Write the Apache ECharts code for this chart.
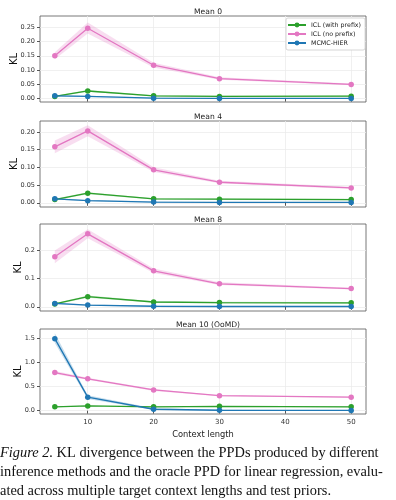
<!DOCTYPE html>
<html>
<head>
<meta charset="utf-8">
<script src="https://cdn.jsdelivr.net/npm/echarts@6/dist/echarts.min.js"></script>
<style>
  html, body { margin: 0; padding: 0; background: #fff; }
  #chart { width: 396px; height: 500px; }
</style>
</head>
<body>
<div id="chart"></div>
<script>
// context lengths shared by every panel
const contextLengths = [5, 10, 20, 30, 50]
const panelTitles = ['Mean 0', 'Mean 4', 'Mean 8', 'Mean 10 (OoMD)']
const methodNames = ['ICL (with prefix)', 'ICL (no prefix)', 'MCMC-HIER']
const xTicks = [10, 20, 30, 40, 50]

// Mean 0
const mean0WithPrefix = [0.008, 0.027, 0.010, 0.008, 0.009]
const mean0WithPrefixLow = [0.006, 0.024, 0.008, 0.006, 0.007]
const mean0WithPrefixHigh = [0.010, 0.030, 0.012, 0.010, 0.011]
const mean0NoPrefix = [0.150, 0.246, 0.117, 0.070, 0.050]
const mean0NoPrefixLow = [0.138, 0.228, 0.109, 0.066, 0.047]
const mean0NoPrefixHigh = [0.162, 0.266, 0.126, 0.075, 0.053]
const mean0Mcmc = [0.010, 0.008, 0.002, 0.001, 0.001]
const mean0McmcLow = [0.008, 0.006, 0.001, 0.000, 0.000]
const mean0McmcHigh = [0.012, 0.010, 0.004, 0.002, 0.002]

// Mean 4
const mean4WithPrefix = [0.009, 0.027, 0.011, 0.010, 0.009]
const mean4WithPrefixLow = [0.007, 0.024, 0.009, 0.008, 0.007]
const mean4WithPrefixHigh = [0.011, 0.030, 0.013, 0.012, 0.011]
const mean4NoPrefix = [0.158, 0.203, 0.093, 0.058, 0.042]
const mean4NoPrefixLow = [0.140, 0.188, 0.087, 0.055, 0.039]
const mean4NoPrefixHigh = [0.176, 0.219, 0.100, 0.062, 0.045]
const mean4Mcmc = [0.011, 0.006, 0.002, 0.001, 0.001]
const mean4McmcLow = [0.009, 0.004, 0.001, 0.000, 0.000]
const mean4McmcHigh = [0.013, 0.008, 0.004, 0.002, 0.002]

// Mean 8
const mean8WithPrefix = [0.010, 0.036, 0.017, 0.015, 0.014]
const mean8WithPrefixLow = [0.007, 0.032, 0.014, 0.012, 0.011]
const mean8WithPrefixHigh = [0.013, 0.040, 0.020, 0.018, 0.017]
const mean8NoPrefix = [0.178, 0.260, 0.128, 0.082, 0.065]
const mean8NoPrefixLow = [0.155, 0.244, 0.120, 0.078, 0.062]
const mean8NoPrefixHigh = [0.201, 0.276, 0.136, 0.087, 0.068]
const mean8Mcmc = [0.012, 0.006, 0.002, 0.001, 0.001]
const mean8McmcLow = [0.009, 0.004, 0.001, 0.000, 0.000]
const mean8McmcHigh = [0.015, 0.008, 0.004, 0.002, 0.002]

// Mean 10 (OoMD)
const mean10WithPrefix = [0.08, 0.10, 0.08, 0.09, 0.08]
const mean10WithPrefixLow = [0.07, 0.09, 0.07, 0.08, 0.07]
const mean10WithPrefixHigh = [0.09, 0.11, 0.09, 0.10, 0.09]
const mean10NoPrefix = [0.79, 0.66, 0.43, 0.31, 0.28]
const mean10NoPrefixLow = [0.76, 0.64, 0.41, 0.30, 0.27]
const mean10NoPrefixHigh = [0.82, 0.68, 0.45, 0.32, 0.29]
const mean10Mcmc = [1.49, 0.28, 0.03, 0.01, 0.005]
const mean10McmcLow = [1.40, 0.24, 0.02, 0.00, 0.000]
const mean10McmcHigh = [1.60, 0.32, 0.05, 0.02, 0.010]

const panelData = [
  [[mean0WithPrefix, mean0WithPrefixLow, mean0WithPrefixHigh], [mean0NoPrefix, mean0NoPrefixLow, mean0NoPrefixHigh], [mean0Mcmc, mean0McmcLow, mean0McmcHigh]],
  [[mean4WithPrefix, mean4WithPrefixLow, mean4WithPrefixHigh], [mean4NoPrefix, mean4NoPrefixLow, mean4NoPrefixHigh], [mean4Mcmc, mean4McmcLow, mean4McmcHigh]],
  [[mean8WithPrefix, mean8WithPrefixLow, mean8WithPrefixHigh], [mean8NoPrefix, mean8NoPrefixLow, mean8NoPrefixHigh], [mean8Mcmc, mean8McmcLow, mean8McmcHigh]],
  [[mean10WithPrefix, mean10WithPrefixLow, mean10WithPrefixHigh], [mean10NoPrefix, mean10NoPrefixLow, mean10NoPrefixHigh], [mean10Mcmc, mean10McmcLow, mean10McmcHigh]]
]

const yTicks = [
  [0, 0.05, 0.10, 0.15, 0.20, 0.25],
  [0, 0.05, 0.10, 0.15, 0.20],
  [0, 0.1, 0.2],
  [0, 0.5, 1.0, 1.5]
]
const yDecimals = [2, 2, 1, 1]
const yRanges = [[-0.0115, 0.289], [-0.012, 0.231], [-0.015, 0.295], [-0.068, 1.69]]

const colors = ['#2ca02c', '#e377c2', '#1f77b4']
const bandColors = ['rgba(44,160,44,0.25)', 'rgba(227,119,194,0.25)', 'rgba(31,119,180,0.25)']
const font = 'DejaVu Sans'
const serif = '14.4px "Liberation Serif"'

const gridBoxes = [
  { top: 16, height: 86 },
  { top: 121, height: 86 },
  { top: 224, height: 87 },
  { top: 329, height: 85 }
]

const chart = echarts.init(document.getElementById('chart'))

const grids = gridBoxes.map((b) => ({
  left: 40, width: 326, top: b.top, height: b.height,
  outerBoundsMode: 'none', containLabel: false,
  show: true, borderColor: '#555', borderWidth: 0.8, backgroundColor: 'transparent'
}))

const xAxes = gridBoxes.map((b, i) => ({
  type: 'value', gridIndex: i, min: 2.75, max: 52.25,
  axisLine: { show: false },
  axisTick: { show: true, length: 3, lineStyle: { color: '#555' }, customValues: xTicks },
  axisLabel: {
    show: i === 3, customValues: xTicks, fontFamily: font, fontSize: 7, color: '#333', margin: 5
  },
  splitLine: { show: true, lineStyle: { color: '#ececec', width: 0.8 } },
  name: i === 3 ? 'Context length' : '',
  nameLocation: 'middle', nameGap: 17, nameMoveOverlap: false,
  nameTextStyle: { fontFamily: font, fontSize: 8.3, color: '#222' }
}))

const yAxes = gridBoxes.map((b, i) => ({
  type: 'value', gridIndex: i, min: yRanges[i][0], max: yRanges[i][1],
  axisLine: { show: false },
  axisTick: { show: true, length: 3, lineStyle: { color: '#555' }, customValues: yTicks[i] },
  axisLabel: {
    customValues: yTicks[i], fontFamily: font, fontSize: 6.5, color: '#333', margin: 5,
    formatter: (v) => v.toFixed(yDecimals[i])
  },
  splitLine: { show: true, lineStyle: { color: '#ececec', width: 0.8 } },
  name: 'KL', nameLocation: 'middle', nameGap: i < 2 ? 21 : 17, nameMoveOverlap: false,
  nameTextStyle: { fontFamily: font, fontSize: 10, color: '#111' }
}))

// shaded band between low and high, drawn once per series through the axis coords
function bandRenderer(color) {
  return (params, api) => {
    if (params.dataIndex !== 0) return null
    const n = params.dataInsideLength
    const upper = []
    const lower = []
    for (let k = 0; k < n; k++) {
      upper.push(api.coord([api.value(0, k), api.value(2, k)]))
      lower.push(api.coord([api.value(0, k), api.value(1, k)]))
    }
    return {
      type: 'polygon',
      shape: { points: upper.concat(lower.reverse()) },
      style: { fill: color }
    }
  }
}

const series = []
panelData.forEach((methods, p) => {
  methods.forEach(([mid, low, high], m) => {
    series.push({
      type: 'custom', xAxisIndex: p, yAxisIndex: p, silent: true, z: 1,
      renderItem: bandRenderer(bandColors[m]),
      data: contextLengths.map((x, k) => [x, low[k], high[k]]),
      encode: { x: 0, y: [1, 2] }
    })
  })
  methods.forEach(([mid], m) => {
    series.push({
      name: methodNames[m], type: 'line', xAxisIndex: p, yAxisIndex: p,
      data: contextLengths.map((x, k) => [x, mid[k]]),
      symbol: 'circle', symbolSize: 5.5,
      lineStyle: { color: colors[m], width: 1.3 },
      itemStyle: { color: colors[m] }, z: 3 + m
    })
  })
})

chart.setOption({
  animation: false,
  title: panelTitles.map((t, i) => ({
    text: t, left: 203, textAlign: 'center', top: gridBoxes[i].top - 13,
    textStyle: { fontFamily: font, fontSize: 7.6, fontWeight: 'normal', color: '#222' }
  })),
  legend: {
    data: methodNames, orient: 'vertical', left: 286, top: 18,
    itemWidth: 18, itemHeight: 6, itemGap: 3,
    padding: [4, 4, 4, 1],
    backgroundColor: '#fff', borderColor: '#ccc', borderWidth: 0.8, borderRadius: 2,
    textStyle: { fontFamily: font, fontSize: 6.3, color: '#222' }
  },
  grid: grids,
  xAxis: xAxes,
  yAxis: yAxes,
  series,
  graphic: [
    {
      type: 'text', left: 0, top: 446,
      style: {
        text: '{it|Figure 2.} KL divergence between the PPDs produced by different',
        font: serif, fill: '#111',
        rich: { it: { fontStyle: 'italic', fontFamily: 'Liberation Serif', fontSize: 14.4 } }
      }
    },
    {
      type: 'text', left: 0, top: 465,
      style: {
        text: 'inference methods and the oracle PPD for linear regression, evalu-',
        font: serif, fill: '#111'
      }
    },
    {
      type: 'text', left: 0, top: 484,
      style: {
        text: 'ated across multiple target context lengths and test priors.',
        font: serif, fill: '#111'
      }
    }
  ]
})
</script>
</body>
</html>
